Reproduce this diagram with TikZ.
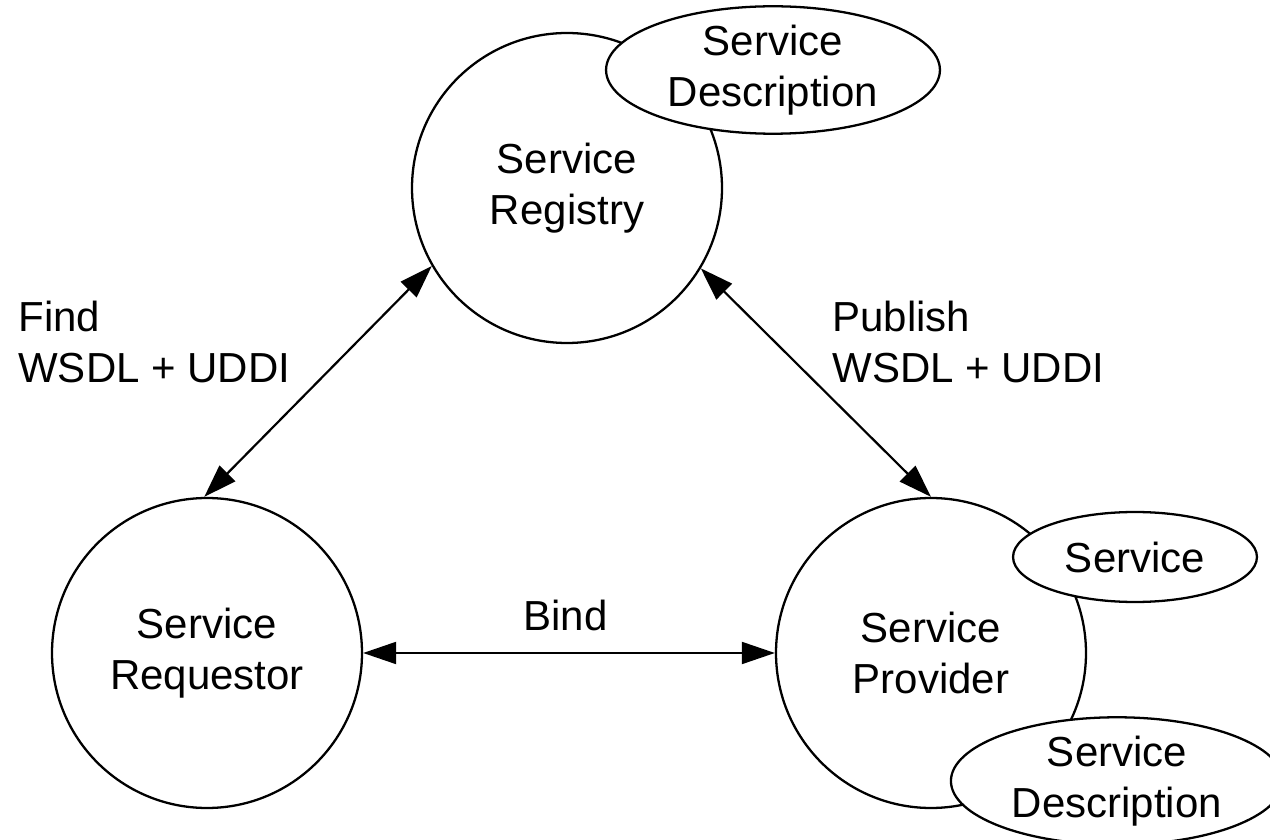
\documentclass[tikz,border=0pt]{standalone}
\usepackage{fontspec}
\setmainfont{Liberation Sans}
\usepackage{tikz}
\usetikzlibrary{arrows.meta,shapes.geometric}

\begin{document}
\begin{tikzpicture}[scale=0.2, >={Triangle[length=18.8pt,width=12.5pt]}]
\tikzstyle{every node}+=[inner sep=0pt, font=\fontsize{23.9}{29}\selectfont]
\tikzstyle{role}=[draw=black, line width=1.3pt, circle, minimum size=176.4pt, align=center]
\tikzstyle{part}=[draw=black, fill=white, line width=1.3pt, ellipse, align=center]
\tikzstyle{link}=[black, line width=1.25pt, <->]
\useasboundingbox (0,0) rectangle (127,-84);
\node [role] (reg) at (56.7,-18.8) {Service\\Registry};
\node [role] (req) at (20.7,-65.3) {Service\\Requestor};
\node [role] (prov) at (93.1,-65.3) {Service\\Provider};
\node [part, minimum width=190pt, minimum height=70.6pt] (regdesc) at (77.3,-7.0) {Service\\Description};
\node [part, minimum width=138.8pt, minimum height=51.2pt] (provsvc) at (113.5,-55.7) {Service};
\node [part, minimum width=189pt, minimum height=71.7pt] (provdesc) at (111.7,-78.1) {Service\\Description};
\draw [link] (reg.210) -- (req.91);
\draw [link] (reg.329) -- (prov.north);
\draw [link] (req.east) -- (prov.west);
\node [anchor=north west, align=left] (find) at (1.8,-30.1) {Find\\WSDL + UDDI};
\node [anchor=north west, align=left] (publish) at (83.2,-30.1) {Publish\\WSDL + UDDI};
\node [anchor=base] (bind) at (56.55,-63.0) {Bind};
\end{tikzpicture}
\end{document}
